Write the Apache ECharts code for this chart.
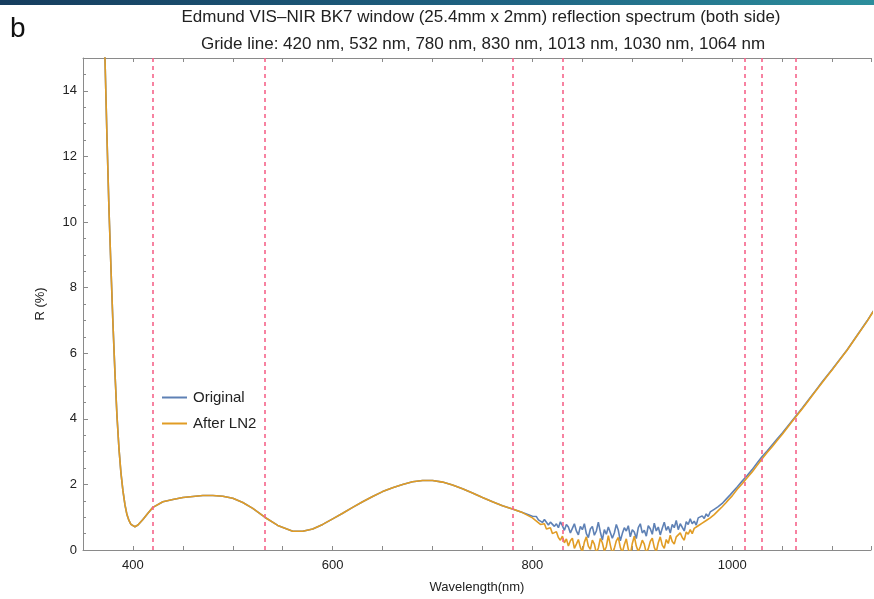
<!DOCTYPE html>
<html>
<head>
<meta charset="utf-8">
<script src="https://cdn.jsdelivr.net/npm/echarts@6/dist/echarts.min.js"></script>
<style>
html,body{margin:0;padding:0;background:#fff;}
#chart{width:874px;height:599px;}
</style>
</head>
<body>
<div id="chart"></div>
<script>
// ---- data ----
const titleLine1 = 'Edmund VIS\u2013NIR BK7 window (25.4mm x 2mm) reflection spectrum (both side)';
const titleLine2 = 'Gride line: 420 nm, 532 nm, 780 nm, 830 nm, 1013 nm, 1030 nm, 1064 nm';
const panelLabel = 'b';
const seriesNames = ['Original', 'After LN2'];
const gridLines = [420, 532, 780, 830, 1013, 1030, 1064];
const xTickLabels = [400, 600, 800, 1000];
const yTickLabels = [0, 2, 4, 6, 8, 10, 12, 14];

const wavelength = [
  368,370,372,374,376,378,380,382,384,386,388,390,392,394,396,398,400,402,
  405,410,415,420,430,440,450,460,470,480,490,500,510,520,532,545,
  560,570,580,590,600,610,620,630,640,650,660,670,680,690,700,710,720,730,740,750,760,770,780,790,
  800,802,804,806,808,810,812,814,816,818,820,822,824,826,828,830,832,834,836,838,
  840,842,844,846,848,850,852,854,856,858,860,862,864,866,868,870,872,874,876,878,
  880,882,884,886,888,890,892,894,896,898,900,902,904,906,908,910,912,914,916,918,
  920,922,924,926,928,930,932,934,936,938,940,942,944,946,948,950,952,954,956,958,
  960,962,964,966,968,970,972,974,976,978,980,982,984,986,988,990,992,994,996,998,1000,
  1005,1010,1015,1020,1025,1030,1035,1040,1045,1050,1055,1060,1065,1070,1075,
  1080,1085,1090,1095,1100,1105,1110,1115,1120,1125,1130,1135,1140,1145,1150
];

const original = [
  17.5,16.2,15,12.6,10.4,8.6,6.9,5.4,4.1,3.1,2.35,1.8,1.38,1.08,0.9,0.78,0.72,0.71,
  0.76,0.93,1.12,1.3,1.47,1.54,1.6,1.63,1.66,1.66,1.64,1.58,1.45,1.27,1.0,0.75,
  0.57,0.57,0.64,0.78,0.95,1.12,1.3,1.47,1.63,1.78,1.9,2.0,2.08,2.12,2.12,2.07,1.98,1.87,1.74,1.6,1.47,1.35,1.25,1.14,
  1.03,0.98,1.02,0.92,0.96,0.84,0.93,0.88,0.76,0.85,0.90,0.72,0.80,0.68,0.86,0.74,0.60,0.78,0.70,0.52,
  0.66,0.80,0.58,0.46,0.72,0.62,0.80,0.50,0.38,0.64,0.72,0.45,0.58,0.85,0.55,0.30,0.62,0.48,0.70,0.66,
  0.36,0.52,0.78,0.60,0.28,0.50,0.68,0.58,0.74,0.40,0.62,0.55,0.35,0.68,0.80,0.52,0.60,0.42,0.74,0.65,
  0.48,0.82,0.58,0.70,0.46,0.66,0.85,0.60,0.72,0.52,0.78,0.68,0.90,0.62,0.80,0.74,0.58,0.86,0.78,0.95,
  0.80,0.88,0.76,0.98,0.92,1.04,0.96,1.10,1.02,1.16,1.12,1.24,1.20,1.32,1.36,1.42,1.48,1.55,1.60,1.68,1.75,
  1.92,2.1,2.27,2.45,2.65,2.85,3.02,3.2,3.38,3.56,3.75,3.94,4.13,4.32,4.52,
  4.72,4.92,5.12,5.31,5.5,5.7,5.9,6.1,6.32,6.54,6.76,6.98,7.22,7.45,7.68
];

const afterLN2 = [
  17.5,16.2,15,12.6,10.4,8.6,6.9,5.4,4.1,3.1,2.35,1.8,1.38,1.08,0.9,0.78,0.72,0.71,
  0.76,0.93,1.12,1.3,1.47,1.54,1.6,1.63,1.66,1.66,1.64,1.58,1.45,1.27,1.0,0.75,
  0.57,0.57,0.64,0.78,0.95,1.12,1.3,1.47,1.63,1.78,1.9,2.0,2.08,2.12,2.12,2.07,1.98,1.87,1.74,1.6,1.47,1.35,1.25,1.14,
  0.98,0.93,0.88,0.92,0.78,0.72,0.80,0.64,0.58,0.68,0.50,0.44,0.56,0.38,0.30,0.42,0.22,0.34,0.12,0.28,
  0.36,0.05,0.18,0.32,0.08,-0.06,0.24,0.40,0.12,0.02,0.30,0.18,-0.10,0.06,0.35,0.22,-0.04,0.10,0.44,0.15,
  -0.12,0.05,0.28,0.38,0.08,-0.08,0.16,0.34,0.02,-0.15,0.20,0.42,0.12,-0.05,0.10,0.30,0.18,-0.10,0.04,0.26,
  0.36,0.08,-0.06,0.22,0.40,0.15,0.05,0.32,0.20,0.45,0.26,0.18,0.40,0.34,0.52,0.38,0.30,0.55,0.48,0.62,
  0.50,0.66,0.60,0.74,0.68,0.82,0.76,0.90,0.86,0.98,1.00,1.08,1.10,1.20,1.24,1.32,1.38,1.45,1.52,1.58,1.65,
  1.85,2.02,2.2,2.38,2.58,2.78,2.97,3.15,3.34,3.52,3.72,3.92,4.11,4.3,4.5,
  4.7,4.9,5.1,5.3,5.49,5.69,5.89,6.09,6.31,6.53,6.75,6.97,7.21,7.44,7.67
];

// ---- chart ----
const chart = echarts.init(document.getElementById('chart'), null, {renderer: 'canvas'});
const font = 'Liberation Sans, Arial, sans-serif';
const axisGray = '#8a8a8a';
const toPairs = (xs, ys) => xs.map((x, i) => [x, ys[i]]);

const xAxisBase = {
  type: 'value', min: 350, max: 1139, interval: 50,
  axisLine: {show: true, lineStyle: {color: axisGray, width: 1}},
  axisTick: {show: true, inside: true, length: 4, lineStyle: {color: axisGray}},
  splitLine: {show: false}
};

const option = {
  backgroundColor: '#ffffff',
  animation: false,
  grid: {left: 83, top: 58, right: 0, height: 495, containLabel: false},
  graphic: [
    {type: 'rect', left: 0, top: 0, shape: {width: 874, height: 5}, z: 100,
     style: {fill: new echarts.graphic.LinearGradient(0, 0, 1, 0, [
       {offset: 0, color: '#163d5e'}, {offset: 0.6, color: '#1f6584'}, {offset: 1, color: '#2c8e9c'}])}},
    {type: 'text', left: 10, top: 15, z: 100,
     style: {text: panelLabel, font: '28px ' + font, fill: '#111'}},
    {type: 'text', x: 481, y: 9, z: 100,
     style: {text: titleLine1, font: '17px ' + font, fill: '#222', textAlign: 'center'}},
    {type: 'text', x: 483, y: 36, z: 100,
     style: {text: titleLine2, font: '17px ' + font, fill: '#222', textAlign: 'center'}}
  ],
  legend: {
    data: seriesNames, orient: 'vertical', left: 157, top: 385, itemGap: 11,
    itemWidth: 25, itemHeight: 2, icon: 'rect',
    textStyle: {fontFamily: font, fontSize: 15, color: '#222', padding: [0, 0, 0, 1]}
  },
  xAxis: [
    Object.assign({}, xAxisBase, {
      position: 'bottom',
      name: 'Wavelength(nm)', nameLocation: 'middle', nameGap: 31,
      nameTextStyle: {fontFamily: font, fontSize: 13, color: '#222'},
      axisLabel: {show: true, margin: 9, fontFamily: font, fontSize: 13, color: '#222',
        formatter: v => xTickLabels.indexOf(v) >= 0 ? String(v) : ''}
    }),
    Object.assign({}, xAxisBase, {position: 'top', axisLabel: {show: false}})
  ],
  yAxis: {
    type: 'value', min: 0, max: 15, interval: 2,
    name: 'R (%)', nameLocation: 'middle', nameGap: 36, nameRotate: 90,
    nameTextStyle: {fontFamily: font, fontSize: 13, color: '#222'},
    axisLine: {show: true, lineStyle: {color: axisGray, width: 1}},
    axisTick: {show: true, inside: true, length: 5, lineStyle: {color: axisGray}},
    minorTick: {show: true, splitNumber: 4, length: 3, lineStyle: {color: axisGray}},
    splitLine: {show: false},
    axisLabel: {margin: 6, fontFamily: font, fontSize: 13, color: '#222',
      formatter: v => yTickLabels.indexOf(v) >= 0 ? String(v) : ''}
  },
  series: [
    {
      name: 'grid', type: 'line', data: [], z: 1, silent: true,
      markLine: {
        silent: true, symbol: ['none', 'none'], animation: false,
        label: {show: false},
        lineStyle: {color: '#f5648a', width: 1.6, type: [4, 4]},
        data: gridLines.map(v => ({xAxis: v}))
      }
    },
    {
      name: seriesNames[0], type: 'line', data: toPairs(wavelength, original),
      showSymbol: false, symbol: 'none', z: 3, clip: true,
      lineStyle: {color: '#5E81B5', width: 1.6}, itemStyle: {color: '#5E81B5'}
    },
    {
      name: seriesNames[1], type: 'line', data: toPairs(wavelength, afterLN2),
      showSymbol: false, symbol: 'none', z: 4, clip: true,
      lineStyle: {color: '#E19C24', width: 1.6}, itemStyle: {color: '#E19C24'}
    }
  ]
};
chart.setOption(option);
</script>
</body>
</html>
